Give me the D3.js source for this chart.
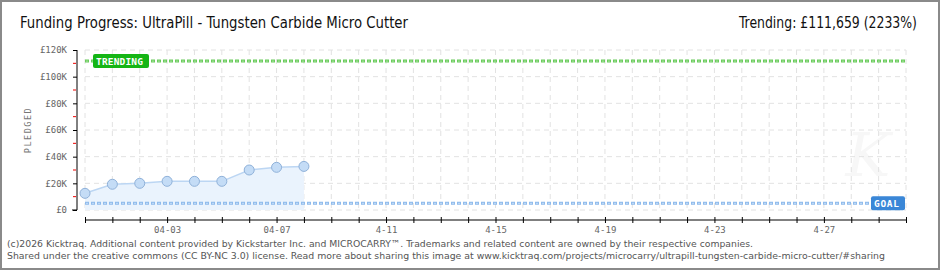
<!DOCTYPE html>
<html><head><meta charset="utf-8">
<script src="https://cdn.jsdelivr.net/npm/d3@7"></script>
<style>body{margin:0;background:#fff}svg{display:block}</style>
</head><body>
<svg id="c" width="940" height="270"></svg>
<script>
const dayIndex = [0,1,2,3,4,5,6,7,8];
const pledged = [12500,19300,20000,21500,21500,21500,30000,32000,32700];
const totalDays = 30;
const yTicks = [0,20000,40000,60000,80000,100000,120000];
const yTickLabels = ["£0","£20K","£40K","£60K","£80K","£100K","£120K"];
const xLabelDays = [3,7,11,15,19,23,27];
const xTickLabels = ["04-03","04-07","4-11","4-15","4-19","4-23","4-27"];
const goal = 5000;
const trending = 111659;
const title = "Funding Progress: UltraPill - Tungsten Carbide Micro Cutter";
const trendText = "Trending: £111,659 (2233%)";
const footer1 = "(c)2026 Kicktraq. Additional content provided by Kickstarter Inc. and MICROCARRY™. Trademarks and related content are owned by their respective companies.";
const footer2 = "Shared under the creative commons (CC BY-NC 3.0) license. Read more about sharing this image at www.kicktraq.com/projects/microcarry/ultrapill-tungsten-carbide-micro-cutter/#sharing";

const svg = d3.select("#c");
const x = d3.scaleLinear().domain([0,totalDays]).range([85,906]);
const y = d3.scaleLinear().domain([0,120000]).range([210,50]);
const pix = "DejaVu Sans Mono, monospace";

svg.append("rect").attr("x",1).attr("y",1).attr("width",938).attr("height",268)
  .attr("fill","#fff").attr("stroke","#8a8a8a").attr("stroke-width",2);

// watermark
svg.append("text").attr("x",868).attr("y",176).attr("text-anchor","middle")
  .attr("font-family","DejaVu Serif, serif").attr("font-style","italic").attr("font-size",60)
  .attr("fill","#f7f7f7").text("K");

// grid
const days = d3.range(0,totalDays+1);
svg.append("g").selectAll("line").data(days).join("line")
  .attr("x1",d=>x(d)).attr("x2",d=>x(d)).attr("y1",50).attr("y2",210)
  .attr("stroke","#e2e2e2").attr("stroke-dasharray","5,4");
svg.append("g").selectAll("line").data(yTicks).join("line")
  .attr("x1",85).attr("x2",906).attr("y1",d=>y(d)).attr("y2",d=>y(d))
  .attr("stroke","#e2e2e2").attr("stroke-dasharray","5,4");

// area + line
const pts = dayIndex.map((d,i)=>({d, v:pledged[i]}));
svg.append("path").datum(pts)
  .attr("d", d3.area().x(p=>x(p.d)).y0(y(0)).y1(p=>y(p.v)))
  .attr("fill","#eaf3fd");
svg.append("path").datum(pts)
  .attr("d", d3.line().x(p=>x(p.d)).y(p=>y(p.v)))
  .attr("fill","none").attr("stroke","#bcd6f3").attr("stroke-width",1.5);

// goal & trending lines
function dashLine(val, col1, col2){
  svg.append("line").attr("x1",85).attr("x2",906).attr("y1",y(val)).attr("y2",y(val))
    .attr("stroke",col1).attr("stroke-width",3).attr("stroke-dasharray","4,2");
  svg.append("line").attr("x1",85).attr("x2",906).attr("y1",y(val)).attr("y2",y(val))
    .attr("stroke",col2).attr("stroke-width",1).attr("stroke-dasharray","2,4").attr("stroke-dashoffset",-1);
}
dashLine(goal,"#8fbbec","#c4dcf7");
dashLine(trending,"#6acb5c","#a9e3a0");

// points
svg.append("g").selectAll("circle").data(pts).join("circle")
  .attr("cx",p=>x(p.d)).attr("cy",p=>y(p.v)).attr("r",5)
  .attr("fill","#c4dcf6").attr("stroke","#8fb1d9").attr("stroke-width",1);

// labels boxes
const tg = svg.append("g");
tg.append("rect").attr("x",93).attr("y",y(trending)-7).attr("width",56).attr("height",14).attr("rx",2)
  .attr("fill","#15b515");
tg.append("text").attr("x",96).attr("y",y(trending)+3.5).attr("font-family",pix).attr("font-size",9.5)
  .attr("font-weight","bold").attr("fill","#fff").attr("textLength",47).text("TRENDING");
const gg = svg.append("g");
gg.append("rect").attr("x",871).attr("y",y(goal)-7).attr("width",34).attr("height",14).attr("rx",2)
  .attr("fill","#3a87d7");
gg.append("text").attr("x",874).attr("y",y(goal)+3.5).attr("font-family",pix).attr("font-size",9.5)
  .attr("font-weight","bold").attr("fill","#fff").attr("textLength",25).text("GOAL");

// y axis
const ya = svg.append("g").attr("transform","translate(77,0)")
  .call(d3.axisLeft(y).tickValues(yTicks).tickFormat((d,i)=>yTickLabels[i]).tickSize(4).tickPadding(6));
ya.select(".domain").attr("stroke","#000").attr("d","M0,50V210");
ya.selectAll(".tick line").attr("stroke","#000");
ya.selectAll("text").attr("font-family",pix).attr("font-size",9).attr("fill","#666");
const minor = d3.range(10000,120000,20000);
svg.append("g").selectAll("line").data(minor).join("line")
  .attr("x1",73).attr("x2",76).attr("y1",d=>y(d)).attr("y2",d=>y(d)).attr("stroke","#e00");
svg.append("line").attr("x1",72).attr("x2",77).attr("y1",y(0)).attr("y2",y(0)).attr("stroke","#000");

// x axis
const xa = svg.append("g").attr("transform","translate(0,220)")
  .call(d3.axisBottom(x).tickValues(days).tickFormat(d=>{const k=xLabelDays.indexOf(d);return k>=0?xTickLabels[k]:"";}).tickSizeInner(3).tickSizeOuter(0).tickPadding(4));
xa.select(".domain").attr("stroke","#000").attr("d","M85,0H906");
xa.selectAll(".tick line").attr("stroke","#000").attr("y1",-3).attr("y2",3);
xa.selectAll("text").attr("font-family",pix).attr("font-size",9).attr("fill","#666");

// axis title
svg.append("text").attr("transform","translate(31,130) rotate(-90)").attr("text-anchor","middle")
  .attr("font-family",pix).attr("font-size",8.5).attr("fill","#777").attr("letter-spacing",1.5).text("PLEDGED");

// title
svg.append("text").attr("x",20).attr("y",28).attr("font-family","DejaVu Sans Condensed, Liberation Sans Narrow, sans-serif")
  .attr("font-size",15).attr("fill","#111").attr("textLength",388).attr("lengthAdjust","spacingAndGlyphs").text(title);
svg.append("text").attr("x",739).attr("y",28).attr("font-family","DejaVu Sans Condensed, Liberation Sans Narrow, sans-serif")
  .attr("font-size",15).attr("fill","#111").attr("textLength",178).attr("lengthAdjust","spacingAndGlyphs").text(trendText);

// footer
svg.append("text").attr("x",7).attr("y",247).attr("font-family","DejaVu Sans Condensed, sans-serif")
  .attr("font-size",9.5).attr("fill","#555").attr("textLength",746).attr("lengthAdjust","spacingAndGlyphs").text(footer1);
svg.append("text").attr("x",7).attr("y",259).attr("font-family","DejaVu Sans Condensed, sans-serif")
  .attr("font-size",9.5).attr("fill","#555").attr("textLength",878).attr("lengthAdjust","spacingAndGlyphs").text(footer2);
</script>
</body></html>
